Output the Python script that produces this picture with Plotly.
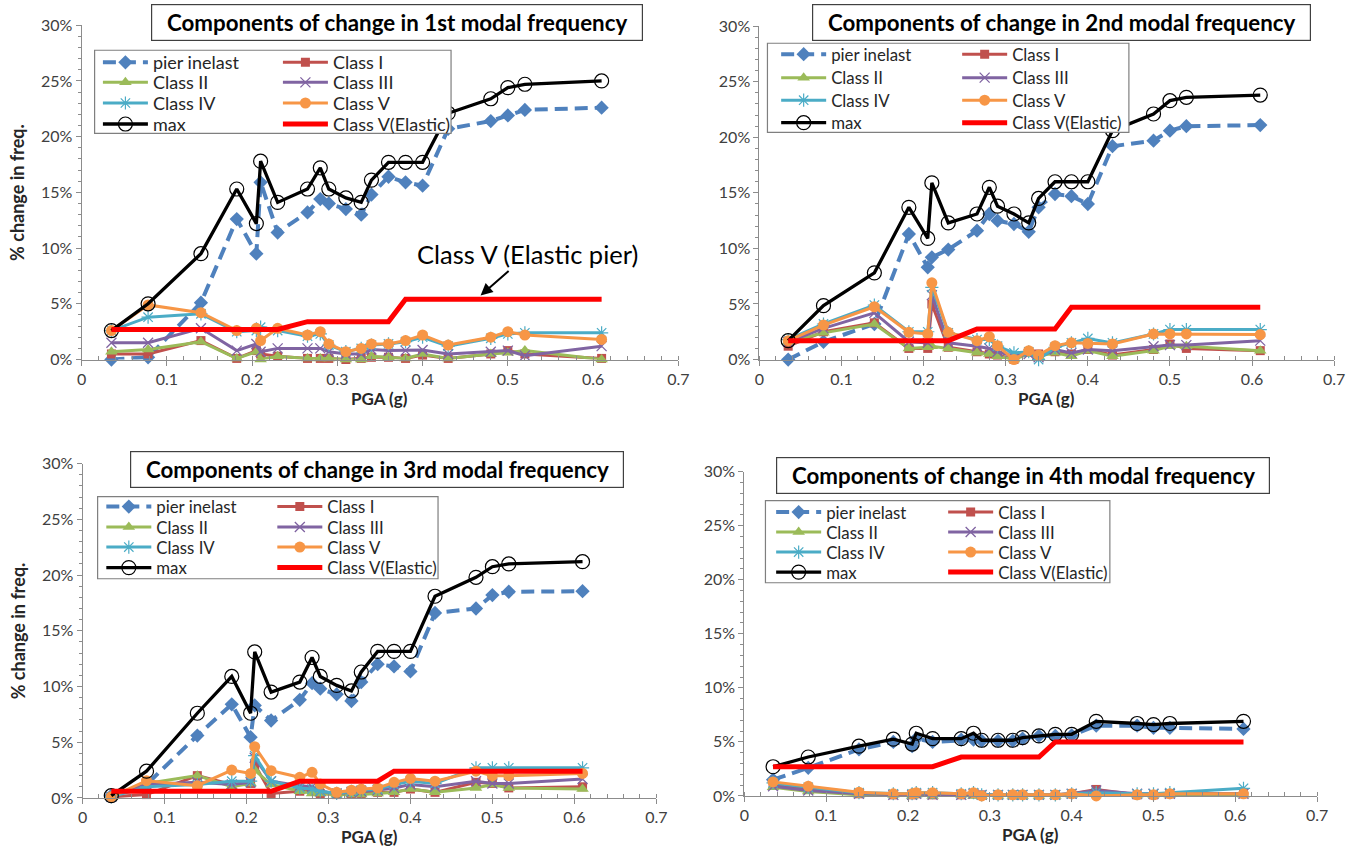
import plotly.graph_objects as go

W, H = 1359, 860
FONT = "Lato"

# ---------------- data ----------------
pga = [0.035, 0.078, 0.14, 0.182, 0.205, 0.21, 0.23, 0.265, 0.28, 0.29, 0.31,
       0.328, 0.34, 0.36, 0.38, 0.40, 0.43, 0.48, 0.50, 0.52, 0.61]

x_tickvals = [0, 0.1, 0.2, 0.3, 0.4, 0.5, 0.6, 0.7]
x_ticktext = ["0", "0.1", "0.2", "0.3", "0.4", "0.5", "0.6", "0.7"]
y_tickvals = [0, 5, 10, 15, 20, 25, 30]
y_ticktext = ["0%", "5%", "10%", "15%", "20%", "25%", "30%"]

series_names = ["pier inelast", "Class I", "Class II", "Class III", "Class IV",
                "Class V", "max", "Class V(Elastic)"]

titles = ["Components of change in 1st modal frequency",
          "Components of change in 2nd modal frequency",
          "Components of change in 3rd modal frequency",
          "Components of change in 4th modal frequency"]

# 1st mode
pier_1 = [0.0, 0.2, 5.1, 12.6, 9.5, 15.9, 11.4, 13.2, 14.4, 14.0, 13.5, 13.0, 14.8, 16.4, 15.9, 15.6, 20.7, 21.4, 21.9, 22.4, 22.6]
c1_1 = [0.5, 0.5, 1.7, 0.1, 0.8, 0.5, 0.3, 0.1, 0.1, 0.1, 0.0, 0.1, 0.2, 0.2, 0.1, 0.4, 0.1, 0.5, 0.8, 0.5, 0.1]
c2_1 = [0.7, 0.9, 1.6, 0.1, 0.7, 0.0, 0.3, 0.1, 0.1, 0.1, 0.0, 0.0, 0.3, 0.2, 0.1, 0.5, 0.1, 0.5, 0.6, 0.8, 0.0]
c3_1 = [1.5, 1.5, 2.8, 0.8, 1.4, 0.7, 1.0, 1.0, 1.0, 0.7, 0.5, 0.5, 0.9, 0.8, 0.8, 0.85, 0.5, 0.7, 0.8, 0.35, 1.2]
c4_1 = [2.6, 3.8, 4.1, 2.5, 2.6, 2.9, 2.6, 2.1, 2.3, 1.3, 0.7, 1.0, 1.3, 1.4, 1.6, 2.0, 1.2, 1.9, 2.3, 2.4, 2.4]
c5_1 = [2.6, 4.9, 4.2, 2.6, 2.8, 1.7, 2.8, 2.2, 2.5, 1.4, 0.7, 1.0, 1.4, 1.4, 1.7, 2.2, 1.3, 2.0, 2.5, 2.2, 1.8]
max_1 = [2.6, 5.0, 9.5, 15.3, 12.2, 17.8, 14.1, 15.3, 17.2, 15.3, 14.5, 14.1, 16.1, 17.7, 17.7, 17.7, 22.1, 23.4, 24.4, 24.7, 25.0]
el_1 = [2.7, 2.7, 2.7, 2.7, 2.7, 2.7, 2.7, 3.4, 3.4, 3.4, 3.4, 3.4, 3.4, 3.4, 5.4, 5.4, 5.4, 5.4, 5.4, 5.4, 5.4]

# 2nd mode
pier_2 = [0.0, 1.6, 3.2, 11.3, 8.3, 9.2, 9.9, 11.6, 13.1, 12.5, 12.2, 11.5, 13.7, 14.9, 14.7, 14.0, 19.2, 19.7, 20.6, 21.0, 21.1]
c1_2 = [1.2, 2.5, 3.3, 1.0, 1.0, 5.0, 1.1, 0.7, 0.5, 0.4, 0.0, 0.7, 0.5, 0.7, 0.5, 0.9, 0.4, 0.9, 1.4, 1.0, 0.8]
c2_2 = [1.6, 2.4, 3.2, 1.0, 1.1, 1.2, 1.0, 0.6, 0.5, 0.3, 0.0, 0.5, 0.3, 0.6, 0.3, 0.8, 0.3, 0.8, 1.2, 1.2, 0.8]
c3_2 = [1.6, 2.8, 4.2, 1.6, 1.5, 5.8, 1.5, 1.2, 1.0, 0.7, 0.3, 0.5, 0.2, 0.9, 0.6, 0.9, 0.8, 1.2, 1.3, 1.3, 1.7]
c4_2 = [1.8, 3.2, 4.9, 2.5, 2.5, 6.5, 2.4, 1.8, 1.8, 1.2, 0.6, 0.7, 0.0, 1.1, 1.5, 1.9, 1.5, 2.3, 2.7, 2.7, 2.7]
c5_2 = [1.7, 3.1, 4.75, 2.45, 2.3, 6.9, 2.45, 1.7, 2.05, 1.25, 0.0, 0.8, 0.4, 1.25, 1.5, 1.45, 1.4, 2.3, 2.3, 2.3, 2.25]
max_2 = [1.7, 4.85, 7.8, 13.7, 10.9, 15.9, 12.3, 13.1, 15.5, 13.8, 13.1, 12.3, 14.5, 16.0, 16.0, 16.0, 20.6, 22.1, 23.3, 23.6, 23.8]
el_2 = [1.7, 1.7, 1.7, 1.7, 1.7, 1.7, 1.7, 2.75, 2.75, 2.75, 2.75, 2.75, 2.75, 2.75, 4.7, 4.7, 4.7, 4.7, 4.7, 4.7, 4.7]

# 3rd mode
pier_3 = [0.2, 1.2, 5.6, 8.4, 5.45, 8.3, 6.95, 8.8, 10.3, 9.8, 9.3, 8.7, 10.4, 12.0, 11.8, 11.35, 16.6, 17.0, 18.2, 18.5, 18.55]
c1_3 = [0.1, 0.3, 2.0, 1.2, 1.3, 3.0, 0.4, 0.6, 0.6, 0.4, 0.3, 0.4, 0.4, 0.5, 0.5, 0.8, 0.5, 1.4, 1.3, 0.9, 1.0]
c2_3 = [0.1, 1.3, 2.0, 1.0, 1.3, 2.5, 1.2, 0.6, 0.4, 0.4, 0.3, 0.3, 0.3, 0.4, 0.5, 0.8, 0.5, 0.9, 1.2, 0.9, 0.8]
c3_3 = [0.1, 1.2, 1.4, 1.2, 1.4, 3.6, 1.5, 1.1, 1.0, 0.6, 0.4, 0.5, 0.6, 0.7, 0.9, 1.2, 1.0, 1.5, 1.3, 1.3, 1.7]
c4_3 = [0.1, 1.0, 1.2, 1.5, 1.5, 3.8, 1.5, 0.9, 0.8, 0.6, 0.4, 0.6, 0.7, 0.8, 1.2, 1.5, 1.3, 2.7, 2.7, 2.7, 2.7]
c5_3 = [0.1, 1.55, 1.1, 2.5, 2.2, 4.6, 2.45, 1.85, 2.3, 1.25, 0.5, 0.7, 0.8, 0.9, 1.4, 1.75, 1.5, 2.4, 2.0, 2.0, 2.2]
max_3 = [0.2, 2.4, 7.6, 10.9, 7.6, 13.1, 9.5, 10.4, 12.6, 10.9, 10.1, 9.6, 11.3, 13.15, 13.15, 13.15, 18.1, 19.8, 20.75, 21.0, 21.2]
el_3 = [0.6, 0.6, 0.6, 0.6, 0.6, 0.6, 0.6, 1.5, 1.5, 1.5, 1.5, 1.5, 1.5, 1.5, 2.4, 2.4, 2.4, 2.4, 2.4, 2.4, 2.4]

# 4th mode
pier_4 = [1.5, 2.6, 4.3, 5.0, 4.6, 5.3, 5.0, 5.2, 5.2, 5.1, 5.1, 5.1, 5.3, 5.55, 5.55, 5.6, 6.5, 6.5, 6.3, 6.3, 6.2]
c1_4 = [1.0, 0.6, 0.2, 0.1, 0.1, 0.2, 0.1, 0.1, 0.2, 0.1, 0.1, 0.1, 0.1, 0.1, 0.1, 0.2, 0.6, 0.1, 0.1, 0.2, 0.2]
c2_4 = [0.8, 0.4, 0.1, 0.1, 0.0, 0.1, 0.0, 0.1, 0.0, 0.0, 0.0, 0.0, 0.0, 0.0, 0.0, 0.1, 0.3, 0.1, 0.1, 0.1, 0.1]
c3_4 = [0.9, 0.5, 0.2, 0.1, 0.1, 0.2, 0.1, 0.1, 0.2, 0.1, 0.1, 0.1, 0.1, 0.1, 0.1, 0.2, 0.5, 0.2, 0.2, 0.2, 0.2]
c4_4 = [1.2, 0.8, 0.3, 0.2, 0.2, 0.3, 0.3, 0.2, 0.3, 0.1, 0.1, 0.1, 0.1, 0.1, 0.1, 0.2, 0.3, 0.2, 0.2, 0.3, 0.7]
c5_4 = [1.3, 0.9, 0.35, 0.2, 0.2, 0.3, 0.3, 0.2, 0.3, 0.0, 0.1, 0.1, 0.1, 0.1, 0.1, 0.2, 0.0, 0.1, 0.1, 0.2, 0.2]
max_4 = [2.7, 3.6, 4.6, 5.25, 4.8, 5.8, 5.3, 5.3, 5.8, 5.15, 5.15, 5.15, 5.4, 5.55, 5.7, 5.7, 6.9, 6.7, 6.6, 6.7, 6.9]
el_4 = [2.7, 2.7, 2.7, 2.7, 2.7, 2.7, 2.7, 3.6, 3.6, 3.6, 3.6, 3.6, 3.6, 3.6, 5.0, 5.0, 5.0, 5.0, 5.0, 5.0, 5.0]

panel_data = [
    [pier_1, c1_1, c2_1, c3_1, c4_1, c5_1, max_1, el_1],
    [pier_2, c1_2, c2_2, c3_2, c4_2, c5_2, max_2, el_2],
    [pier_3, c1_3, c2_3, c3_3, c4_3, c5_3, max_3, el_3],
    [pier_4, c1_4, c2_4, c3_4, c4_4, c5_4, max_4, el_4],
]

# ---------------- styles ----------------
BLUE, BROWN, GREEN, PURPLE, TEAL, ORANGE = "#4F81BD", "#C0504D", "#9BBB59", "#8064A2", "#4BACC6", "#F79646"
styles = [
    dict(line=dict(color=BLUE, width=4, dash="13px,7px"), marker=dict(symbol="diamond", size=11, color=BLUE)),
    dict(line=dict(color=BROWN, width=3), marker=dict(symbol="square", size=9, color=BROWN)),
    dict(line=dict(color=GREEN, width=3), marker=dict(symbol="triangle-up", size=11, color=GREEN)),
    dict(line=dict(color=PURPLE, width=3), marker=dict(symbol="x-thin-open", size=10, color=PURPLE, line=dict(width=1.3, color=PURPLE))),
    dict(line=dict(color=TEAL, width=3), marker=dict(symbol="asterisk-open", size=11, color=TEAL, line=dict(width=1.2, color="#7FC8DC"))),
    dict(line=dict(color=ORANGE, width=3), marker=dict(symbol="circle", size=11, color=ORANGE)),
    dict(line=dict(color="black", width=3.3), marker=dict(symbol="circle-open", size=14, color="black", line=dict(width=1.2))),
    dict(line=dict(color="#FF0000", width=5), mode="lines"),
]
# legend row of each series (two entries per row)
legend_row = [0, 0, 1, 1, 2, 2, 3, 3]

# panel geometry measured on the reference picture: x from 0 to 0.7 ; y from 0% to 30%
panels = [
    dict(x0=82, x1=678, yb=359, yt=25),
    dict(x0=759, x1=1333, yb=359, yt=26),
    dict(x0=83, x1=656, yb=797, yt=463),
    dict(x0=744, x1=1316, yb=795, yt=471),
]
legend_boxes = [
    dict(l=95, r=451, t=50, b=133, col1=98.3, ew=120, rows=[61.7, 81.7, 102.3, 123.3], fs=18),
    dict(l=767, r=1128, t=43, b=132, col1=775.7, ew=121, rows=[53.5, 77, 99.5, 122], fs=16.8),
    dict(l=98, r=438, t=496, b=578, col1=101.7, ew=111, rows=[505.5, 526, 546, 566.5], fs=16.8),
    dict(l=765, r=1109, t=500, b=582, col1=770.7, ew=112, rows=[511, 531, 551, 571], fs=16.8),
]
title_pos = [(397, 22), (1061, 22), (377.5, 469), (1022, 475)]


# map picture pixels to paper fractions (calibrated against the rendered output)
def fx(p):
    return ((p - 5.5) / 0.987) / W


def fy(p):
    return 1 - ((p - 9.8) / 0.977) / H


fig = go.Figure()
layout = dict(width=W, height=H, margin=dict(l=0, r=0, t=0, b=0),
              paper_bgcolor="white", plot_bgcolor="white", showlegend=True)
annotations = []
shapes = []

for i in range(4):
    sfx = "" if i == 0 else str(i + 1)
    P = panels[i]
    for k, name in enumerate(series_names):
        st = styles[k]
        lid = 4 * i + legend_row[k]
        leg_id = "legend" + ("" if lid == 0 else str(lid + 1))
        fig.add_trace(go.Scatter(
            x=pga, y=panel_data[i][k], name=name,
            mode=st.get("mode", "lines+markers"),
            line=st["line"], marker=st.get("marker", None),
            xaxis="x" + sfx, yaxis="y" + sfx, legend=leg_id,
            cliponaxis=False,
        ))
    layout["xaxis" + sfx] = dict(
        domain=[fx(P["x0"]), fx(P["x1"])], range=[0, 0.7], anchor="y" + sfx,
        tickvals=x_tickvals, ticktext=x_ticktext,
        showgrid=False, zeroline=False, showline=True, linecolor="#8C8C8C", linewidth=1,
        ticks="outside", ticklen=5, tickcolor="#8C8C8C",
        minor=dict(dtick=0.02, tick0=0, ticks="inside", ticklen=4, tickcolor="#8C8C8C", showgrid=False),
        tickfont=dict(family=FONT, size=16, color="#404040"),
    )
    layout["yaxis" + sfx] = dict(
        domain=[fy(P["yb"]), fy(P["yt"])], range=[0, 30], anchor="x" + sfx,
        tickvals=y_tickvals, ticktext=y_ticktext,
        showgrid=False, zeroline=False, showline=True, linecolor="#8C8C8C", linewidth=1,
        ticks="outside", ticklen=5, tickcolor="#8C8C8C",
        minor=dict(dtick=1, tick0=0, ticks="outside", ticklen=3, tickcolor="#8C8C8C", showgrid=False),
        tickfont=dict(family=FONT, size=16, color="#404040"),
    )
    LB = legend_boxes[i]
    fs = LB["fs"]
    item_h = fs * 1.3 + 3
    offset = 5 + item_h / 2  # distance from legend top to item centre (figure px)
    for r in range(4):
        lid = 4 * i + r
        key = "legend" + ("" if lid == 0 else str(lid + 1))
        center_fig = (LB["rows"][r] - 9.8) / 0.977
        layout[key] = dict(
            x=fx(LB["col1"]), y=1 - (center_fig - offset) / H,
            xanchor="left", yanchor="top", orientation="h",
            bgcolor="rgba(0,0,0,0)", borderwidth=0, itemwidth=45,
            entrywidth=LB["ew"], entrywidthmode="pixels",
            font=dict(family=FONT, size=fs, color="#262626"),
            tracegroupgap=0, traceorder="normal",
        )
    # opaque legend frame drawn above the data lines
    shapes.append(dict(type="rect", xref="paper", yref="paper",
                       x0=fx(LB["l"]), x1=fx(LB["r"]), y0=fy(LB["b"]), y1=fy(LB["t"]),
                       line=dict(color="#7F7F7F", width=1.2), fillcolor="white", layer="above"))
    tx, ty = title_pos[i]
    annotations.append(dict(text="<b>\u00a0\u00a0" + titles[i] + "\u00a0\u00a0</b>", xref="paper", yref="paper",
                            x=fx(tx), y=fy(ty), xanchor="center", yanchor="middle", showarrow=False,
                            font=dict(family=FONT, size=22.3, color="black"),
                            bordercolor="#404040", borderwidth=1.2, borderpad=4, bgcolor="white"))
    annotations.append(dict(text="<b>PGA (g)</b>", xref="paper", yref="paper",
                            x=fx((P["x0"] + P["x1"]) / 2), y=fy(P["yb"] + 39), xanchor="center", yanchor="middle",
                            showarrow=False, font=dict(family=FONT, size=17, color="#262626")))
    if i in (0, 2):
        annotations.append(dict(text="<b>% change in freq.</b>", xref="paper", yref="paper", textangle=-90,
                                x=fx(18), y=fy((P["yb"] + P["yt"]) / 2), xanchor="center", yanchor="middle",
                                showarrow=False, font=dict(family=FONT, size=18, color="#262626")))

annotations.append(dict(text="Class V (Elastic pier)", xref="x", yref="y", x=0.468, y=5.75,
                        ax=47, ay=-41, showarrow=True, arrowhead=2, arrowsize=1.2, arrowwidth=2,
                        arrowcolor="black", font=dict(family=FONT, size=25.5, color="black")))

layout["annotations"] = annotations
layout["shapes"] = shapes
fig.update_layout(**layout)
fig.write_html("out.html")
